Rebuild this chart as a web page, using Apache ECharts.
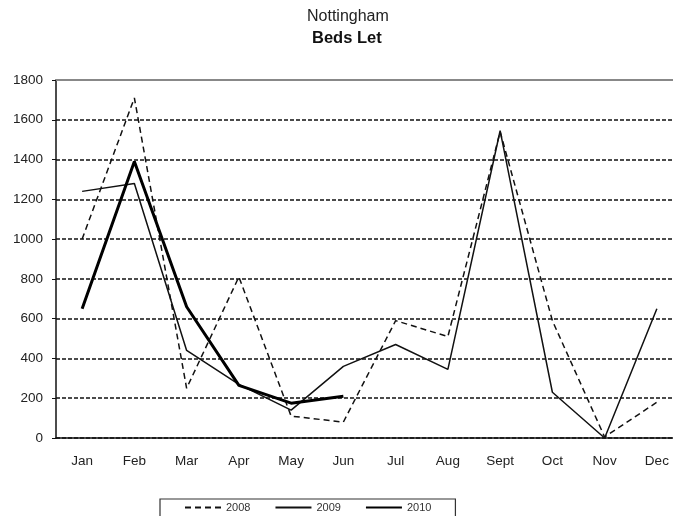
<!DOCTYPE html>
<html>
<head>
<meta charset="utf-8">
<script src="https://cdn.jsdelivr.net/npm/echarts@6/dist/echarts.min.js"></script>
<style>
  html, body { margin: 0; padding: 0; background: #fff; }
  #chart { width: 673px; height: 516px; }
</style>
</head>
<body>
<div id="chart"></div>
<script>
// Monthly beds let, Nottingham
var months = ['Jan', 'Feb', 'Mar', 'Apr', 'May', 'Jun', 'Jul', 'Aug', 'Sept', 'Oct', 'Nov', 'Dec'];
var beds2008 = [1000, 1710, 250, 810, 110, 80, 590, 510, 1540, 590, 5, 180];
var beds2009 = [1240, 1280, 440, 270, 140, 360, 470, 345, 1545, 230, 0, 650];
var beds2010 = [650, 1390, 660, 265, 175, 210];
var yTicks = { min: 0, max: 1800, step: 200 };

var chart = echarts.init(document.getElementById('chart'));
var font = 'Arial, "Liberation Sans", sans-serif';

chart.setOption({
  animation: false,
  backgroundColor: '#fff',
  title: [
    { text: 'Nottingham', left: 302, top: 4,
      textStyle: { fontFamily: font, fontSize: 16, fontWeight: 'normal', color: '#222' } },
    { text: 'Beds Let', left: 307, top: 25,
      textStyle: { fontFamily: font, fontSize: 16.5, fontWeight: 'bold', color: '#111' } }
  ],
  legend: {
    left: 160, top: 499, width: 294,
    padding: [3, 24, 8, 24],
    itemGap: 24,
    itemWidth: 36, itemHeight: 8,
    borderColor: '#333', borderWidth: 1.2,
    itemStyle: { opacity: 0 },
    textStyle: { fontFamily: font, fontSize: 11, color: '#333' },
    data: ['2008', '2009', '2010']
  },
  // the plot runs slightly past the right edge of the canvas
  grid: { left: 56, top: 80, width: 627, height: 358, outerBoundsMode: 'none' },
  xAxis: [
    {
      type: 'category', data: months, boundaryGap: true, position: 'bottom',
      axisLine: { lineStyle: { color: '#111', width: 1.5 } },
      axisTick: { inside: true, length: 5, lineStyle: { color: '#111' } },
      axisLabel: { fontFamily: font, fontSize: 13.5, color: '#222', margin: 16 }
    },
    {
      type: 'category', data: months, position: 'top',
      axisLine: { lineStyle: { color: '#888', width: 2 } },
      axisTick: { show: false }, axisLabel: { show: false }
    }
  ],
  yAxis: {
    type: 'value', min: yTicks.min, max: yTicks.max, interval: yTicks.step,
    axisLine: { show: true, lineStyle: { color: '#111', width: 1.5 } },
    axisTick: { show: true, length: 4, lineStyle: { color: '#111' } },
    axisLabel: { fontFamily: font, fontSize: 13.5, color: '#222', margin: 13,
      formatter: function (v) { return String(v); } },
    splitLine: { show: true, lineStyle: { color: '#111', width: 1.5, type: [4, 2] } }
  },
  series: [
    {
      name: '2008', type: 'line', data: beds2008, symbol: 'none',
      lineStyle: { color: '#111', width: 1.5, type: [6, 4] }, itemStyle: { color: '#111' }
    },
    {
      name: '2009', type: 'line', data: beds2009, symbol: 'none',
      lineStyle: { color: '#111', width: 1.5 }, itemStyle: { color: '#111' }
    },
    {
      name: '2010', type: 'line', data: beds2010, symbol: 'none',
      lineStyle: { color: '#000', width: 3 }, itemStyle: { color: '#000' }
    }
  ]
});
</script>
</body>
</html>
